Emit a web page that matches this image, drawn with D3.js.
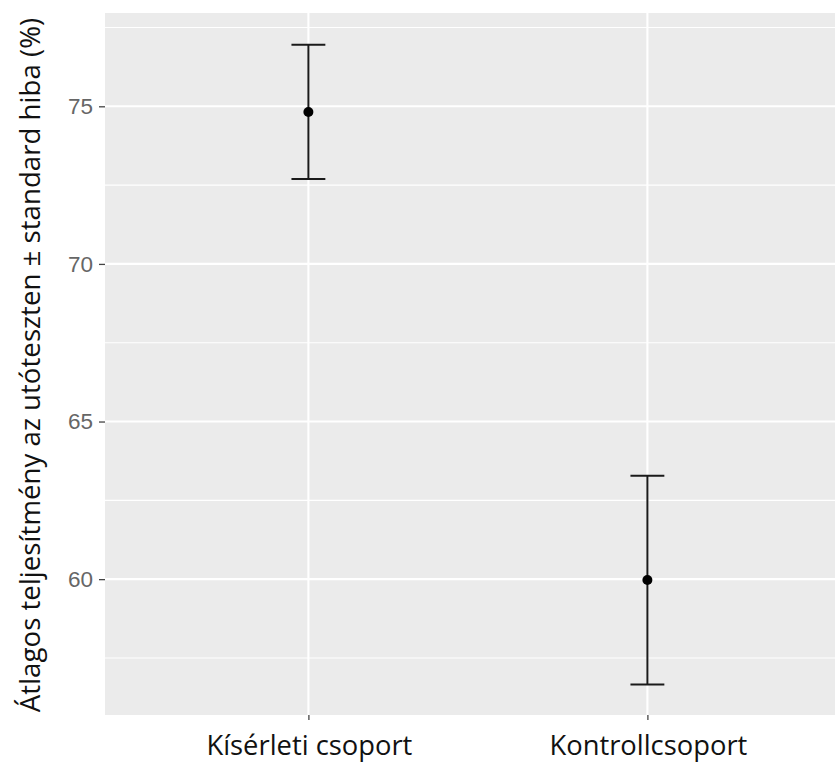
<!DOCTYPE html>
<html>
<head>
<meta charset="utf-8">
<script src="https://cdn.jsdelivr.net/npm/d3@7"></script>
<style>
  html, body { margin: 0; padding: 0; background: #ffffff; }
  svg { display: block; }
</style>
</head>
<body>
<svg id="chart" width="835" height="765"></svg>
<script>
// Group means with their standard errors (post-test performance, %)
const categories = ["Kísérleti csoport", "Kontrollcsoport"];
const means = [74.82, 59.97];
const stdErrors = [2.13, 3.31];
const yTicks = [60, 65, 70, 75];
const yMinorTicks = [57.5, 62.5, 67.5, 72.5, 77.5];
const yTitle = "Átlagos teljesítmény az utóteszten ± standard hiba (%)";

const svg = d3.select("#chart");
const W = 835, H = 765;
const panel = { left: 105, top: 13, bottom: 715 };
const stepPx = 339;

const x = d3.scalePoint()
  .domain(categories)
  .range([panel.left, panel.left + stepPx * (categories.length - 1 + 1.2)])
  .padding(0.6);

const y = d3.scaleLinear()
  .domain([55.69, 77.96])
  .range([panel.bottom, panel.top]);

// Panel background
svg.append("rect")
  .attr("x", panel.left).attr("y", panel.top)
  .attr("width", W - panel.left).attr("height", panel.bottom - panel.top)
  .attr("fill", "#ebebeb");

const grid = svg.append("g");
grid.selectAll("line.minor").data(yMinorTicks).join("line")
  .attr("class", "minor")
  .attr("x1", panel.left).attr("x2", W)
  .attr("y1", d => y(d)).attr("y2", d => y(d))
  .attr("stroke", "#ffffff").attr("stroke-width", 1.1);
grid.selectAll("line.major").data(yTicks).join("line")
  .attr("class", "major")
  .attr("x1", panel.left).attr("x2", W)
  .attr("y1", d => y(d)).attr("y2", d => y(d))
  .attr("stroke", "#ffffff").attr("stroke-width", 2.1);
grid.selectAll("line.vmajor").data(categories).join("line")
  .attr("class", "vmajor")
  .attr("x1", d => x(d)).attr("x2", d => x(d))
  .attr("y1", panel.top).attr("y2", panel.bottom)
  .attr("stroke", "#ffffff").attr("stroke-width", 2.1);

// Axes
const yAxis = svg.append("g")
  .attr("transform", `translate(${panel.left},0)`)
  .call(d3.axisLeft(y).tickValues(yTicks).tickSize(6).tickPadding(6).tickFormat(d3.format("d")));
yAxis.select(".domain").remove();
yAxis.selectAll(".tick line").attr("stroke", "#444").attr("stroke-width", 1.3);
yAxis.selectAll(".tick text")
  .attr("fill", "#666")
  .style("font-family", "'Liberation Sans', Arial, sans-serif")
  .style("font-size", "22.5px");

const xAxis = svg.append("g")
  .attr("transform", `translate(0,${panel.bottom})`)
  .call(d3.axisBottom(x).tickSize(5).tickFormat(""));
xAxis.select(".domain").remove();
xAxis.selectAll(".tick line").attr("stroke", "#444").attr("stroke-width", 1.3);

// Category labels
const xLabels = svg.append("g").selectAll("text").data(categories).join("text")
  .attr("x", d => x(d) + 1)
  .attr("y", 755)
  .attr("text-anchor", "middle")
  .attr("fill", "#111")
  .style("font-family", "'Open Sans', sans-serif")
  .style("font-size", "24px")
  .text(d => d);
// size the category labels to a 206px wide first label
const w0 = xLabels.nodes()[0].getComputedTextLength();
xLabels.style("font-size", (24 * 206 / w0) + "px");

// Y axis title
const yt = svg.append("text")
  .attr("transform", "translate(40,365) rotate(-90)")
  .attr("text-anchor", "middle")
  .attr("fill", "#111")
  .style("font-family", "'Open Sans', sans-serif")
  .style("font-size", "24px")
  .text(yTitle);
const wt = yt.node().getComputedTextLength();
yt.style("font-size", (24 * 695 / wt) + "px");

// Error bars and means
const capHalf = 0.05 * stepPx;
const rows = categories.map((c, i) => ({ c, m: means[i], se: stdErrors[i] }));
const marks = svg.append("g");
marks.selectAll("line.bar").data(rows).join("line")
  .attr("x1", d => x(d.c)).attr("x2", d => x(d.c))
  .attr("y1", d => y(d.m + d.se)).attr("y2", d => y(d.m - d.se))
  .attr("stroke", "#1a1a1a").attr("stroke-width", 2);
marks.selectAll("line.capTop").data(rows).join("line")
  .attr("x1", d => x(d.c) - capHalf).attr("x2", d => x(d.c) + capHalf)
  .attr("y1", d => y(d.m + d.se)).attr("y2", d => y(d.m + d.se))
  .attr("stroke", "#1a1a1a").attr("stroke-width", 2);
marks.selectAll("line.capBot").data(rows).join("line")
  .attr("x1", d => x(d.c) - capHalf).attr("x2", d => x(d.c) + capHalf)
  .attr("y1", d => y(d.m - d.se)).attr("y2", d => y(d.m - d.se))
  .attr("stroke", "#1a1a1a").attr("stroke-width", 2);
marks.selectAll("circle").data(rows).join("circle")
  .attr("cx", d => x(d.c)).attr("cy", d => y(d.m))
  .attr("r", 5)
  .attr("fill", "#000");
</script>
</body>
</html>
